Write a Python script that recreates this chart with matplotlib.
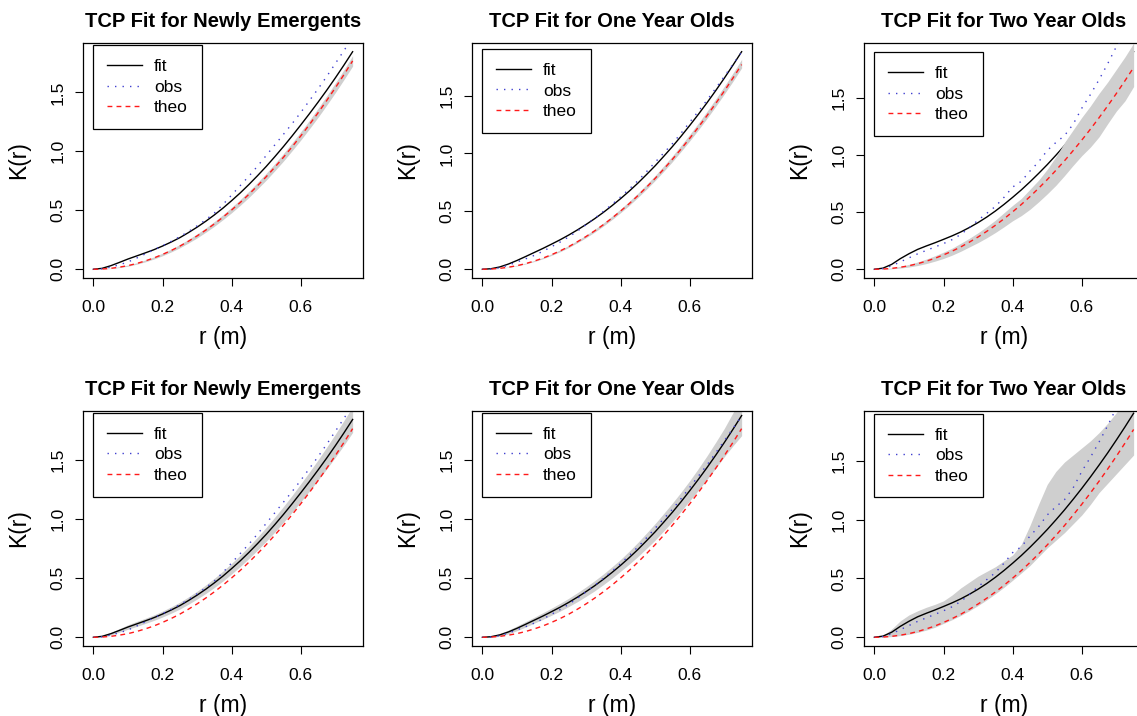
import numpy as np
import matplotlib
matplotlib.use("Agg")
import matplotlib.pyplot as plt
from matplotlib.lines import Line2D

plt.rcParams['font.family'] = ['Liberation Sans', 'DejaVu Sans']

# distance grid (m)
r = np.linspace(0, 0.75, 31)

# CSR reference K(r)
theo = [0, 0.002, 0.008, 0.018, 0.031, 0.049, 0.071, 0.096, 0.126, 0.159, 0.196,
        0.238, 0.283, 0.332, 0.385, 0.442, 0.503, 0.567, 0.636, 0.709, 0.785,
        0.866, 0.950, 1.039, 1.131, 1.227, 1.327, 1.431, 1.539, 1.651, 1.767]

# newly emergents
fit_new = [0, 0.008, 0.030, 0.058, 0.087, 0.113, 0.139, 0.166, 0.197, 0.231, 0.268,
           0.311, 0.357, 0.407, 0.461, 0.519, 0.582, 0.648, 0.719, 0.794, 0.872,
           0.955, 1.041, 1.131, 1.224, 1.319, 1.417, 1.518, 1.623, 1.732, 1.845]
obs_new = [0, 0.004, 0.018, 0.038, 0.062, 0.095, 0.130, 0.165, 0.200, 0.237, 0.276,
           0.320, 0.368, 0.420, 0.477, 0.550, 0.630, 0.710, 0.790, 0.875, 0.965,
           1.055, 1.145, 1.235, 1.330, 1.430, 1.530, 1.635, 1.745, 1.855, 1.965]
csr_lo_new = [0, 0.001, 0.006, 0.015, 0.026, 0.043, 0.063, 0.087, 0.115, 0.147, 0.182,
              0.223, 0.266, 0.314, 0.365, 0.421, 0.480, 0.543, 0.610, 0.682, 0.756,
              0.836, 0.918, 1.006, 1.096, 1.191, 1.289, 1.392, 1.498, 1.609, 1.723]
csr_hi_new = [0, 0.003, 0.010, 0.021, 0.036, 0.055, 0.079, 0.105, 0.137, 0.171, 0.210,
              0.253, 0.300, 0.350, 0.405, 0.463, 0.526, 0.591, 0.662, 0.736, 0.814,
              0.896, 0.982, 1.072, 1.166, 1.263, 1.365, 1.470, 1.580, 1.693, 1.811]
tcp_lo_new = [0, 0.004, 0.020, 0.043, 0.068, 0.092, 0.117, 0.143, 0.172, 0.204, 0.239,
              0.280, 0.324, 0.371, 0.422, 0.477, 0.537, 0.600, 0.668, 0.739, 0.813,
              0.892, 0.974, 1.060, 1.148, 1.238, 1.331, 1.426, 1.525, 1.628, 1.735]
tcp_hi_new = [0, 0.012, 0.040, 0.073, 0.106, 0.134, 0.161, 0.189, 0.222, 0.258, 0.297,
              0.342, 0.390, 0.443, 0.500, 0.561, 0.627, 0.696, 0.770, 0.849, 0.931,
              1.018, 1.108, 1.202, 1.300, 1.400, 1.503, 1.610, 1.721, 1.836, 1.955]

# one year olds
fit_one = [0, 0.005, 0.020, 0.045, 0.076, 0.110, 0.145, 0.180, 0.217, 0.255, 0.296,
           0.340, 0.387, 0.437, 0.491, 0.549, 0.610, 0.675, 0.744, 0.818, 0.894,
           0.976, 1.060, 1.149, 1.242, 1.338, 1.438, 1.542, 1.650, 1.762, 1.878]
obs_one = [0, 0.003, 0.013, 0.035, 0.063, 0.090, 0.120, 0.155, 0.195, 0.235, 0.280,
           0.330, 0.385, 0.440, 0.500, 0.560, 0.625, 0.693, 0.765, 0.843, 0.925,
           1.005, 1.085, 1.175, 1.270, 1.365, 1.460, 1.562, 1.665, 1.770, 1.875]
csr_lo_one = [0, 0.002, 0.007, 0.017, 0.029, 0.046, 0.067, 0.091, 0.120, 0.152, 0.188,
              0.229, 0.273, 0.321, 0.373, 0.429, 0.489, 0.552, 0.620, 0.692, 0.767,
              0.847, 0.930, 1.018, 1.109, 1.204, 1.303, 1.406, 1.513, 1.623, 1.738]
csr_hi_one = [0, 0.002, 0.009, 0.020, 0.034, 0.053, 0.076, 0.102, 0.133, 0.167, 0.206,
              0.249, 0.295, 0.346, 0.400, 0.459, 0.521, 0.587, 0.657, 0.732, 0.810,
              0.893, 0.979, 1.070, 1.164, 1.262, 1.364, 1.470, 1.580, 1.694, 1.812]
tcp_lo_one = [0, 0, 0.008, 0.029, 0.056, 0.087, 0.120, 0.152, 0.187, 0.222, 0.261,
              0.302, 0.347, 0.394, 0.446, 0.501, 0.560, 0.620, 0.684, 0.753, 0.824,
              0.902, 0.982, 1.068, 1.157, 1.246, 1.338, 1.432, 1.530, 1.622, 1.708]
tcp_hi_one = [0, 0.011, 0.032, 0.061, 0.096, 0.133, 0.170, 0.208, 0.247, 0.288, 0.331,
              0.378, 0.427, 0.480, 0.536, 0.597, 0.660, 0.730, 0.804, 0.883, 0.964,
              1.050, 1.138, 1.230, 1.327, 1.430, 1.538, 1.652, 1.770, 1.902, 2.048]

# two year olds
fit_two = [0, 0.010, 0.043, 0.093, 0.136, 0.174, 0.204, 0.232, 0.262, 0.293, 0.327,
           0.366, 0.409, 0.457, 0.510, 0.568, 0.630, 0.695, 0.765, 0.839, 0.916,
           0.998, 1.083, 1.173, 1.266, 1.363, 1.464, 1.568, 1.677, 1.789, 1.905]
obs_two = [0, 0.006, 0.030, 0.065, 0.100, 0.135, 0.165, 0.195, 0.225, 0.260, 0.305,
           0.365, 0.430, 0.490, 0.550, 0.630, 0.720, 0.770, 0.860, 0.940, 1.040,
           1.110, 1.170, 1.270, 1.410, 1.530, 1.660, 1.800, 1.950, 2.060, 2.170]
csr_lo_two = [0, 0, 0.004, 0.011, 0.020, 0.033, 0.050, 0.071, 0.095, 0.124, 0.158,
              0.196, 0.234, 0.276, 0.322, 0.372, 0.425, 0.470, 0.525, 0.590, 0.660,
              0.735, 0.820, 0.910, 0.995, 1.070, 1.160, 1.275, 1.385, 1.475, 1.600]
csr_hi_two = [0, 0.003, 0.012, 0.025, 0.043, 0.064, 0.089, 0.118, 0.150, 0.185, 0.228,
              0.272, 0.320, 0.373, 0.430, 0.495, 0.560, 0.620, 0.700, 0.780, 0.875,
              0.985, 1.110, 1.220, 1.330, 1.430, 1.540, 1.640, 1.750, 1.860, 1.980]
tcp_lo_two = [0, 0.001, 0.006, 0.014, 0.026, 0.042, 0.061, 0.085, 0.118, 0.150, 0.186,
              0.226, 0.270, 0.318, 0.370, 0.425, 0.485, 0.547, 0.610, 0.685, 0.760,
              0.825, 0.890, 0.965, 1.040, 1.130, 1.230, 1.310, 1.390, 1.470, 1.550]
tcp_hi_two = [0, 0.015, 0.070, 0.140, 0.190, 0.225, 0.255, 0.280, 0.310, 0.360, 0.420,
              0.470, 0.520, 0.560, 0.600, 0.650, 0.700, 0.790, 0.950, 1.130, 1.300,
              1.410, 1.490, 1.550, 1.610, 1.670, 1.740, 1.820, 1.910, 2.000, 2.100]

titles = ["TCP Fit for Newly Emergents", "TCP Fit for One Year Olds",
          "TCP Fit for Two Year Olds"]
fits = [fit_new, fit_one, fit_two]
observed = [obs_new, obs_one, obs_two]
csr_bands = [(csr_lo_new, csr_hi_new), (csr_lo_one, csr_hi_one), (csr_lo_two, csr_hi_two)]
tcp_bands = [(tcp_lo_new, tcp_hi_new), (tcp_lo_one, tcp_hi_one), (tcp_lo_two, tcp_hi_two)]
# upper end of the y range for each row
ymax_top = [1.845, 1.878, 1.905]
ymax_bottom = [1.843, 1.843, 1.850]

xticks = [0, 0.2, 0.4, 0.6]
xticklabels = ["0.0", "0.2", "0.4", "0.6"]
yticks = [0, 0.5, 1.0, 1.5]
yticklabels = ["0.0", "0.5", "1.0", "1.5"]

GREY = '#cfcfcf'
BLUE = '#4040d0'
RED = '#ff1a1a'
OBS_DASH = (1, 4.4)
THEO_DASH = (3.5, 3)

W, H = 1137, 716
fig = plt.figure(figsize=(W / 100, H / 100), dpi=100)
fig.patch.set_facecolor('white')

col_left = [83, 472, 864]
row_top = [43, 411]
aw, ah = 280, 235


def draw_panel(ax, title, fit, obs, band, ymax, band_over_fit):
    lo, hi = band
    # the CSR envelope is laid over the fitted curve, the TCP one under it
    band_z = 2.5 if band_over_fit else 1
    ax.fill_between(r, lo, hi, color=GREY, lw=0, zorder=band_z)
    ax.plot(r, fit, color='black', lw=1.0, zorder=2)
    ax.plot(r, obs, color=BLUE, lw=1.0, dashes=OBS_DASH, zorder=3)
    ax.plot(r, theo, color=RED, lw=1.0, dashes=THEO_DASH, zorder=3)

    ax.set_xlim(-0.03, 0.78)
    ax.set_ylim(-0.04 * ymax, 1.04 * ymax)
    ax.set_xticks(xticks)
    ax.set_xticklabels(xticklabels)
    ax.set_yticks(yticks)
    ax.set_yticklabels(yticklabels)
    for lab in ax.get_yticklabels():
        lab.set_rotation(90)
        lab.set_va('center')
    ax.tick_params(direction='out', length=5.5, width=0.8, labelsize=12.5)
    ax.tick_params(axis='x', pad=10)
    ax.tick_params(axis='y', pad=7)
    for sp in ax.spines.values():
        sp.set_linewidth(0.9)

    ax.set_title(title, fontsize=14.5, fontweight='bold', pad=11.5)
    ax.set_xlabel("r (m)", fontsize=16.5)
    ax.set_ylabel("K(r)", fontsize=16.5)
    ax.xaxis.set_label_coords(0.5, -48 / ah)
    ax.yaxis.set_label_coords(-53 / aw, 0.5)

    handles = [Line2D([], [], color='black', lw=1.0),
               Line2D([], [], color=BLUE, lw=1.0, dashes=OBS_DASH),
               Line2D([], [], color=RED, lw=1.0, dashes=THEO_DASH)]
    leg = ax.legend(handles, ["fit", "obs", "theo"], loc='upper left',
                    bbox_to_anchor=(0, 1.9), bbox_transform=ax.transData,
                    borderaxespad=0, fontsize=12.5, frameon=True, fancybox=False,
                    edgecolor='black', framealpha=1, handlelength=2.0,
                    handletextpad=0.7, labelspacing=0.3, borderpad=0.8)
    leg.get_frame().set_linewidth(0.9)
    leg.set_zorder(5)


for row in range(2):
    for col in range(3):
        left = col_left[col]
        top = row_top[row]
        ax = fig.add_axes([left / W, 1 - (top + ah) / H, aw / W, ah / H])
        if row == 0:
            draw_panel(ax, titles[col], fits[col], observed[col], csr_bands[col],
                       ymax_top[col], True)
        else:
            draw_panel(ax, titles[col], fits[col], observed[col], tcp_bands[col],
                       ymax_bottom[col], False)

fig.savefig("out.png", dpi=100)
